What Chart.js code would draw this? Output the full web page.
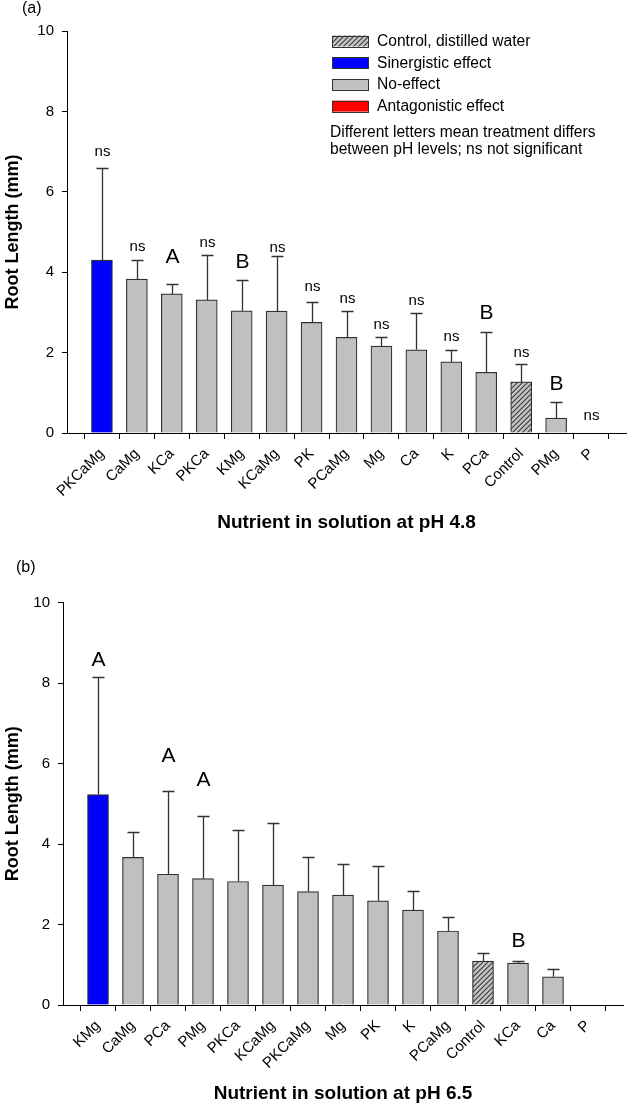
<!DOCTYPE html>
<html><head><meta charset="utf-8">
<script src="https://cdn.jsdelivr.net/npm/chart.js@4.4.1/dist/chart.umd.min.js"></script>
<style>
html,body{margin:0;padding:0;background:#fff;}
#wrap{position:relative;width:629px;height:1106px;overflow:hidden;font-family:"Liberation Sans",Arial,sans-serif;}
canvas{position:absolute;left:0;}
.pl{position:absolute;font-size:16px;color:#000;line-height:18px;}
</style></head><body>
<div id="wrap">
<canvas id="ca" width="629" height="560" style="top:0"></canvas>
<canvas id="cb" width="629" height="546" style="top:560px"></canvas>
<div class="pl" style="left:22px;top:-1px">(a)</div>
<div class="pl" style="left:16px;top:558px">(b)</div>
</div>
<script>
// ---------- data: panel (a) pH 4.8 ----------
const catsA = ['PKCaMg','CaMg','KCa','PKCa','KMg','KCaMg','PK','PCaMg','Mg','Ca','K','PCa','Control','PMg','P'];
const valsA = [4.30,3.83,3.46,3.31,3.04,3.03,2.75,2.38,2.16,2.07,1.77,1.51,1.27,0.37,0];
const errA  = [2.29,0.47,0.25,1.12,0.77,1.37,0.51,0.65,0.24,0.92,0.30,1.00,0.45,0.41,0];
const effA  = ['syn','none','none','none','none','none','none','none','none','none','none','none','ctrl','none','none'];
const letA  = ['ns','ns','A','ns','B','ns','ns','ns','ns','ns','ns','B','ns','B','ns'];
const letYA = [6.89,4.53,4.23,4.63,4.10,4.51,3.54,3.23,2.58,3.18,2.30,2.83,1.88,1.07,0.32];
// ---------- data: panel (b) pH 6.5 ----------
const catsB = ['KMg','CaMg','PCa','PMg','PKCa','KCaMg','PKCaMg','Mg','PK','K','PCaMg','Control','KCa','Ca','P'];
const valsB = [5.23,3.67,3.25,3.14,3.07,2.98,2.82,2.73,2.59,2.36,1.84,1.09,1.04,0.70,0];
const errB  = [2.93,0.64,2.06,1.56,1.29,1.55,0.85,0.77,0.87,0.47,0.35,0.21,0.06,0.19,0];
const effB  = ['syn','none','none','none','none','none','none','none','none','none','none','ctrl','none','none','none'];
const letB  = ['A','','A','A','','','','','','','','','B','',''];
const letYB = [8.43,0,6.03,5.44,0,0,0,0,0,0,0,0,1.45,0,0];
// ---------- ticks / legend ----------
const yTicks = [0,2,4,6,8,10];
const legendLabels = ['Control, distilled water','Sinergistic effect','No-effect','Antagonistic effect'];
const legendKeys = ['ctrl','syn','none','ant'];
const noteLines = ['Different letters mean treatment differs','between pH levels; ns not significant'];

const FAM = '"Liberation Sans", Arial, sans-serif';

function hatchPattern(){
  const c=document.createElement('canvas'); c.width=5; c.height=5;
  const g=c.getContext('2d');
  g.fillStyle='#c4c4c4'; g.fillRect(0,0,5,5);
  g.strokeStyle='#3a3a3a'; g.lineWidth=1.1;
  g.beginPath(); g.moveTo(-1,6); g.lineTo(6,-1);
  g.moveTo(-1,1); g.lineTo(1,-1); g.moveTo(4,6); g.lineTo(6,4); g.stroke();
  return g.createPattern(c,'repeat');
}
const HATCH = hatchPattern();
const fillOf = {syn:'#0000ff', none:'#c0c0c0', ant:'#ff0000', ctrl:HATCH};

const annot = {
  id:'annot',
  afterDatasetsDraw(chart, args, o){
    const {ctx, scales:{x,y}} = chart;
    ctx.save();
    ctx.strokeStyle='#333'; ctx.lineWidth=1.3;
    o.vals.forEach((v,i)=>{
      const px = Math.round(x.getPixelForValue(i+1))+0.5;
      const e = o.err[i];
      if(e>0){
        const y0=y.getPixelForValue(v), y1=Math.round(y.getPixelForValue(v+e))+0.5;
        ctx.beginPath(); ctx.moveTo(px,y0); ctx.lineTo(px,y1);
        ctx.moveTo(px-6,y1); ctx.lineTo(px+6,y1); ctx.stroke();
      }
      const t=o.lab[i];
      if(t){
        ctx.fillStyle='#000';
        ctx.font = (t==='ns' ? '15px ' : '21px ') + FAM;
        ctx.textAlign='center'; ctx.textBaseline='alphabetic';
        ctx.fillText(t, px, y.getPixelForValue(o.labY[i]));
      }
    });
    ctx.restore();
  }
};

const legendPlugin = {
  id:'legendBox',
  afterDraw(chart, args, o){
    if(!o.show) return;
    const ctx=chart.ctx;
    ctx.save();
    ctx.font='15.6px '+FAM; ctx.textBaseline='middle'; ctx.textAlign='left';
    legendLabels.forEach((t,i)=>{
      const cy = 41 + 21.7*i;
      ctx.fillStyle = fillOf[legendKeys[i]];
      ctx.fillRect(332, cy-5.5, 36, 11);
      ctx.strokeStyle='#333'; ctx.lineWidth=1;
      ctx.strokeRect(332.5, Math.round(cy-5.5)+0.5, 36, 11);
      ctx.fillStyle='#000';
      ctx.fillText(t, 377, cy+0.5);
    });
    noteLines.forEach((t,i)=>{ ctx.fillText(t, 330, 132.7 + 17.3*i); });
    ctx.restore();
  }
};

function makeChart(id, cats, vals, err, eff, lab, labY, title, geo, showLegend){
  return new Chart(document.getElementById(id), {
    type:'bar',
    data:{ datasets:[{
      data: vals.map((v,i)=>({x:i+1, y:v})),
      backgroundColor: eff.map(k=>fillOf[k]),
      borderColor:'#303030', borderWidth:1.2, barThickness:21, borderSkipped:'bottom'
    }]},
    options:{
      responsive:false, animation:false, devicePixelRatio:1,
      layout:{padding:{top:geo.top, right:geo.right, left:0, bottom:0}},
      plugins:{ legend:{display:false}, tooltip:{enabled:false},
        annot:{vals, err, lab, labY}, legendBox:{show:showLegend} },
      scales:{
        x:{ type:'linear', min:0, max:16, offset:false,
          afterBuildTicks: s=>{ s.ticks = cats.map((c,i)=>({value:i+1})); },
          ticks:{ autoSkip:false, minRotation:45, maxRotation:45, padding:6, color:'#000',
            font:{size:15, family:FAM}, callback:(v)=>cats[v-1] },
          grid:{ drawOnChartArea:false, drawTicks:true, tickLength:6, color:'#000', lineWidth:1 },
          border:{ color:'#000', width:1 },
          title:{ display:true, text:title, color:'#000', font:{size:19, weight:'bold', family:FAM},
            padding:{top:0, bottom:geo.tpad} },
          afterFit: s=>{ s.height = geo.xh; }
        },
        y:{ min:0, max:10,
          afterBuildTicks: s=>{ s.ticks = yTicks.map(v=>({value:v})); },
          ticks:{ padding:8, color:'#000', font:{size:15, family:FAM} },
          grid:{ drawOnChartArea:false, drawTicks:true, tickLength:5, color:'#000', lineWidth:1 },
          border:{ color:'#000', width:1 },
          title:{ display:true, text:'Root Length (mm)', color:'#000', font:{size:18, weight:'bold', family:FAM},
            padding:{top:2, bottom:0} },
          afterFit: s=>{ s.width = geo.yw; }
        }
      }
    },
    plugins:[annot, legendPlugin]
  });
}

makeChart('ca', catsA, valsA, errA, effA, letA, letYA, 'Nutrient in solution at pH 4.8',
  {top:31, right:3, yw:67, xh:127, tpad:25.6}, true);
makeChart('cb', catsB, valsB, errB, effB, letB, letYB, 'Nutrient in solution at pH 6.5',
  {top:42.7, right:6, yw:63, xh:101, tpad:0.6}, false);
</script>
</body></html>
